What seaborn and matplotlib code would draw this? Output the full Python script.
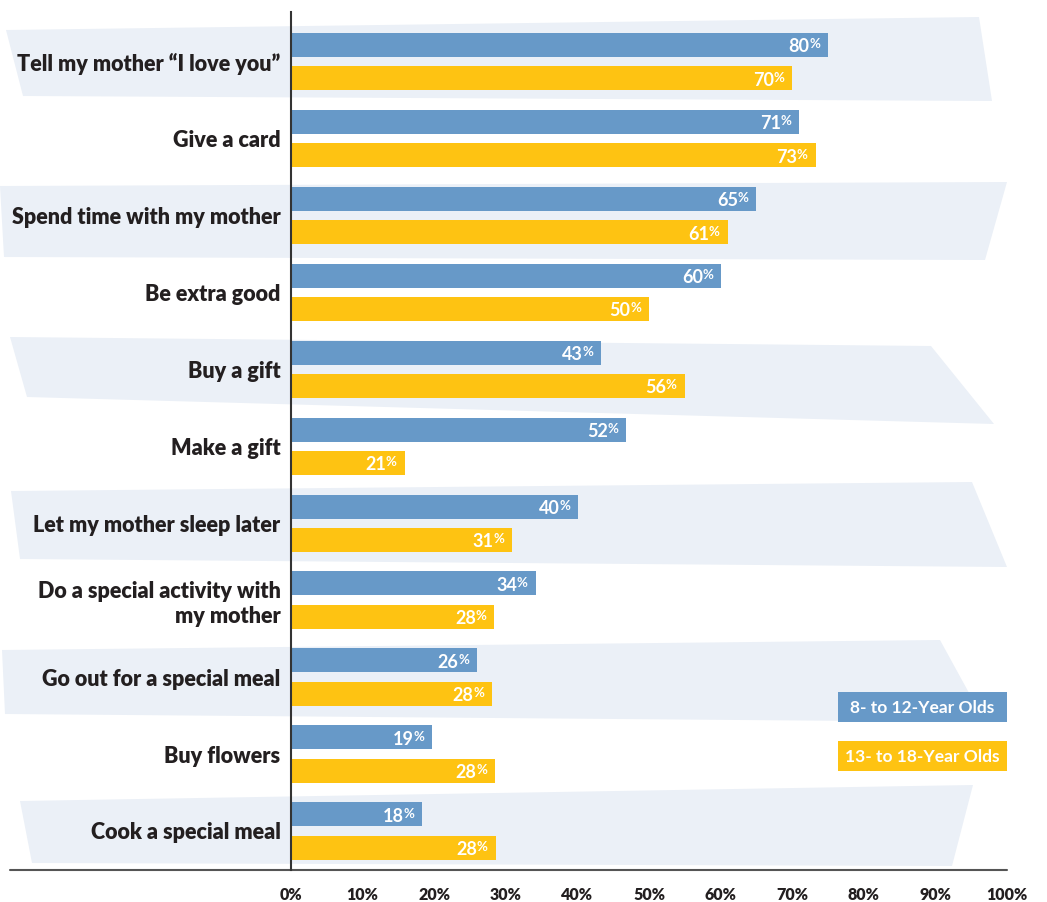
import matplotlib
matplotlib.use('Agg')
import matplotlib.pyplot as plt
import matplotlib.transforms as mtransforms
from matplotlib.patches import Polygon, Rectangle
import pandas as pd
import seaborn as sns

categories = [
    'Tell my mother \u201cI love you\u201d',
    'Give a card',
    'Spend time with my mother',
    'Be extra good',
    'Buy a gift',
    'Make a gift',
    'Let my mother sleep later',
    'Do a special activity with\nmy mother',
    'Go out for a special meal',
    'Buy flowers',
    'Cook a special meal',
]
groups = ['8- to 12-Year Olds', '13- to 18-Year Olds']

# printed percentages
young_pct = [80, 71, 65, 60, 43, 52, 40, 34, 26, 19, 18]
teen_pct = [70, 73, 61, 50, 56, 21, 31, 28, 28, 28, 28]
# bar lengths as drawn in the original (a few don't match the printed numbers)
young_bar = [75, 71, 65, 60.1, 43.3, 46.8, 40.1, 34.2, 26, 19.7, 18.3]
teen_bar = [70, 73.3, 61, 50, 55, 15.9, 30.9, 28.4, 28.1, 28.5, 28.6]

ticks = list(range(0, 101, 10))

BLUE = '#6799c8'
YELLOW = '#fec312'
BAND = '#ebf0f7'
DARK = '#231f20'
W, H = 1047, 902

df = pd.DataFrame({
    'category': categories * 2,
    'group': [groups[0]] * len(categories) + [groups[1]] * len(categories),
    'bar': young_bar + teen_bar,
})

sns.set_style('white')
plt.rcParams['font.family'] = ['Lato', 'DejaVu Sans']

fig = plt.figure(figsize=(W / 100, H / 100), dpi=100)
fig.patch.set_facecolor('white')
px = mtransforms.Affine2D().scale(1 / W, -1 / H).translate(0, 1) + fig.transFigure

# light background bands behind every other row
bands = [
    [(6, 30), (979, 17), (992, 101), (23, 96)],
    [(0, 186), (1007, 182), (985, 260), (4, 257)],
    [(10, 337), (931, 346), (994, 424), (27, 397)],
    [(11, 491), (972, 482), (1007, 567), (20, 559)],
    [(2, 650), (940, 640), (985, 722), (5, 714)],
    [(20, 801), (973, 785), (952, 866), (32, 863)],
]
for pts in bands:
    fig.add_artist(Polygon(pts, closed=True, transform=px, facecolor=BAND,
                           edgecolor='none', zorder=-5))

ax = fig.add_axes([291 / W, 32 / H, 716 / W, 858 / H])
ax.set_facecolor('none')

sns.barplot(data=df, x='bar', y='category', hue='group', hue_order=groups,
            order=categories, orient='h', palette=[BLUE, YELLOW], width=0.866,
            gap=0.28, saturation=1, legend=False, linewidth=0, ax=ax)

ax.set_xlim(0, 100)
ax.set_ylim(10.507, -0.643)
ax.set_xlabel('')
ax.set_ylabel('')
ax.set_xticks(ticks)
ax.set_xticklabels([f'{t}%' for t in ticks])
ax.tick_params(axis='x', direction='out', length=8, width=1.3, color='#444444',
               pad=4.5, labelsize=11.5, labelcolor=DARK)
ax.tick_params(axis='y', length=0, pad=7.5, labelsize=15.5, labelcolor=DARK)
for lbl in ax.get_xticklabels() + ax.get_yticklabels():
    lbl.set_fontweight('heavy')

for s in ['top', 'right', 'bottom']:
    ax.spines[s].set_visible(False)
ax.spines['left'].set_color('#333333')
ax.spines['left'].set_linewidth(1.5)
ax.plot([-(291 - 10) / 716, 1], [0, 0], transform=ax.transAxes, clip_on=False,
        color='#555555', lw=1.5)

# value labels
for cont in ax.containers:
    for bar in cont:
        xe = bar.get_x() + bar.get_width()
        yc = bar.get_y() + bar.get_height() / 2
        idx = int(round(yc))
        v = young_pct[idx] if yc < idx else teen_pct[idx]
        ax.annotate(str(v), (xe, yc), xytext=(-18.5 * 0.72, -7.5 * 0.72),
                    textcoords='offset points', ha='right', va='baseline',
                    color='white', fontsize=13, fontweight='bold')
        ax.annotate('%', (xe, yc), xytext=(-8 * 0.72, -3.5 * 0.72),
                    textcoords='offset points', ha='right', va='baseline',
                    color='white', fontsize=9.5, fontweight='bold')

# legend boxes
for i, (g, c) in enumerate(zip(groups, [BLUE, YELLOW])):
    y0 = 692 + i * 49
    fig.add_artist(Rectangle((838, y0), 169, 30, transform=px, facecolor=c,
                             edgecolor='none'))
    fig.text(922, y0 + 16, g, transform=px, ha='center', va='center',
             color='white', fontsize=12.5, fontweight='bold')

fig.savefig('out.png', dpi=100)
